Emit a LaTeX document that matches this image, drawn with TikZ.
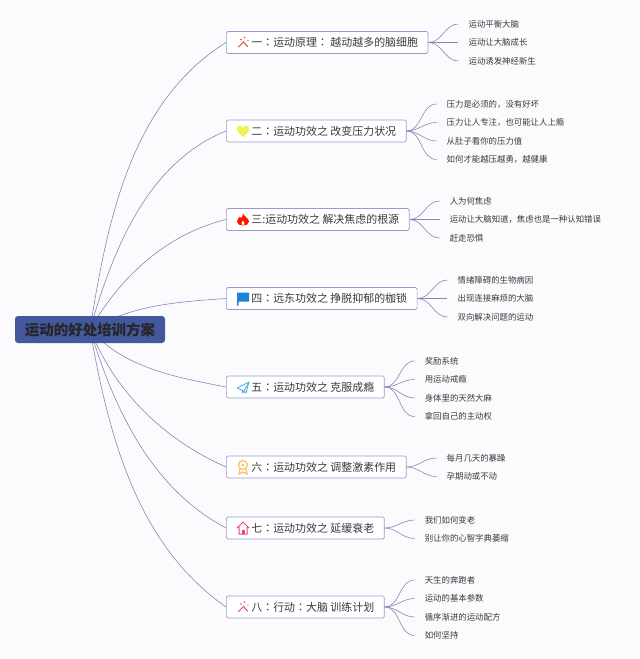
\documentclass[tikz,border=0pt]{standalone}
\usepackage{fontspec}
\setmainfont{Noto Sans CJK SC}
\newfontfamily\colonfont{Noto Sans CJK TC}
\usetikzlibrary{positioning, backgrounds}
\definecolor{pagetint}{RGB}{251,251,254}
\definecolor{rootblue}{RGB}{68,88,158}
\definecolor{linegray}{RGB}{132,136,182}
\definecolor{boxedge}{RGB}{150,155,208}
\definecolor{labelgray}{RGB}{58,58,62}
\definecolor{wandred}{RGB}{222,70,60}
\definecolor{wandpink}{RGB}{228,70,120}
\definecolor{heartyellow}{RGB}{240,240,80}
\definecolor{flagblue}{RGB}{30,130,220}
\definecolor{planeblue}{RGB}{80,170,230}
\definecolor{medalgold}{RGB}{245,195,90}
\newcommand{\cln}{{\colonfont ：}}

\begin{document}
\begin{tikzpicture}[
  x=1pt, y=-1pt,
  node distance=6.1pt,
  root/.style={rectangle, fill=rootblue, rounded corners=3pt, minimum width=150pt,
               minimum height=27pt, inner sep=0pt, font=\fontsize{14.5pt}{16pt}\selectfont\bfseries, text=black!85},
  branch/.style={rectangle, draw=boxedge, fill=white, rounded corners=1.5pt, anchor=west,
                 minimum height=22pt, inner xsep=10pt, inner ysep=0pt, line width=0.7pt,
                 font=\fontsize{10.95pt}{12pt}\selectfont, text=labelgray},
  leaf/.style={rectangle, minimum height=12pt, inner xsep=10pt, inner ysep=0pt,
               font=\fontsize{8.4pt}{10pt}\selectfont, text=labelgray},
  trunk/.style={draw=linegray, line width=0.6pt},
  twig/.style={draw=linegray, line width=0.6pt, out=0, in=180},
]
  \useasboundingbox (0,0) rectangle (640,659);

  \node[root] (main) at (90,329.5) {运动的好处培训方案};

  \node[branch] (b1) at (226,42.5) {\hspace*{15pt}一\cln 运动原理\cln\ 越动越多的脑细胞};
  \node[branch] (b2) at (226,131) {\hspace*{15pt}二\cln 运动功效之 改变压力状况};
  \node[branch] (b3) at (226,219.5) {\hspace*{15pt}三:运动功效之 解决焦虑的根源};
  \node[branch] (b4) at (226,298.5) {\hspace*{15pt}四\cln 远东功效之 挣脱抑郁的枷锁};
  \node[branch] (b5) at (226,387) {\hspace*{15pt}五\cln 运动功效之 克服成瘾};
  \node[branch] (b6) at (226,467) {\hspace*{15pt}六\cln 运动功效之 调整激素作用};
  \node[branch] (b7) at (226,528) {\hspace*{15pt}七\cln 运动功效之 延缓衰老};
  \node[branch] (b8) at (226,607) {\hspace*{15pt}八\cln 行动\cln 大脑 训练计划};

  \node[leaf, right=30pt of b1] (b1b) {运动让大脑成长};
  \node[leaf, above=of b1b.north west, anchor=south west] (b1a) {运动平衡大脑};
  \node[leaf, below=of b1b.south west, anchor=north west] (b1c) {运动诱发神经新生};

  \node[leaf, right=30pt of b2, yshift=27pt] (b2a) {压力是必须的，没有好坏};
  \node[leaf, below=of b2a.south west, anchor=north west] (b2b) {压力让人专注，也可能让人上瘾};
  \node[leaf, below=of b2b.south west, anchor=north west] (b2c) {从肚子看你的压力值};
  \node[leaf, below=of b2c.south west, anchor=north west] (b2d) {如何才能越压越勇，越健康};

  \node[leaf, right=30pt of b3] (b3b) {运动让大脑知道，焦虑也是一种认知错误};
  \node[leaf, above=of b3b.north west, anchor=south west] (b3a) {人为何焦虑};
  \node[leaf, below=of b3b.south west, anchor=north west] (b3c) {赶走恐惧};

  \node[leaf, right=30pt of b4] (b4b) {出现连接麻烦的大脑};
  \node[leaf, above=of b4b.north west, anchor=south west] (b4a) {情绪障碍的生物病因};
  \node[leaf, below=of b4b.south west, anchor=north west] (b4c) {双向解决问题的运动};

  \node[leaf, right=30pt of b5, yshift=26pt] (b5a) {奖励系统};
  \node[leaf, below=of b5a.south west, anchor=north west] (b5b) {用运动戒瘾};
  \node[leaf, below=of b5b.south west, anchor=north west] (b5c) {身体里的天然大麻};
  \node[leaf, below=of b5c.south west, anchor=north west] (b5d) {拿回自己的主动权};

  \node[leaf, right=30pt of b6, yshift=9pt] (b6a) {每月几天的暴躁};
  \node[leaf, below=of b6a.south west, anchor=north west] (b6b) {孕期动或不动};

  \node[leaf, right=30pt of b7, yshift=8pt] (b7a) {我们如何变老};
  \node[leaf, below=of b7a.south west, anchor=north west] (b7b) {别让你的心智字典萎缩};

  \node[leaf, right=30pt of b8, yshift=27pt] (b8a) {天生的奔跑者};
  \node[leaf, below=of b8a.south west, anchor=north west] (b8b) {运动的基本参数};
  \node[leaf, below=of b8b.south west, anchor=north west] (b8c) {循序渐进的运动配方};
  \node[leaf, below=of b8c.south west, anchor=north west] (b8d) {如何坚持};

  \begin{scope}[on background layer]
    \fill[pagetint] (0,0) rectangle (640,659);
    \draw[trunk] (main.center) to[out=81, in=212, looseness=0.9] (b1.west);
    \draw[trunk] (main.center) to[out=74, in=202, looseness=0.9] (b2.west);
    \draw[trunk] (main.center) to[out=60, in=194, looseness=0.9] (b3.west);
    \draw[trunk] (main.center) to[out=30, in=184, looseness=0.9] (b4.west);
    \draw[trunk] (main.center) to[out=-48, in=169, looseness=0.9] (b5.west);
    \draw[trunk] (main.center) to[out=-68, in=156, looseness=0.9] (b6.west);
    \draw[trunk] (main.center) to[out=-73, in=152, looseness=0.9] (b7.west);
    \draw[trunk] (main.center) to[out=-80, in=145, looseness=0.9] (b8.west);
  \end{scope}

  \draw[twig] (b1.east) to (b1a.west);
  \draw[twig] (b1.east) to (b1b.west);
  \draw[twig] (b1.east) to (b1c.west);
  \draw[twig] (b2.east) to (b2a.west);
  \draw[twig] (b2.east) to (b2b.west);
  \draw[twig] (b2.east) to (b2c.west);
  \draw[twig] (b2.east) to (b2d.west);
  \draw[twig] (b3.east) to (b3a.west);
  \draw[twig] (b3.east) to (b3b.west);
  \draw[twig] (b3.east) to (b3c.west);
  \draw[twig] (b4.east) to (b4a.west);
  \draw[twig] (b4.east) to (b4b.west);
  \draw[twig] (b4.east) to (b4c.west);
  \draw[twig] (b5.east) to (b5a.west);
  \draw[twig] (b5.east) to (b5b.west);
  \draw[twig] (b5.east) to (b5c.west);
  \draw[twig] (b5.east) to (b5d.west);
  \draw[twig] (b6.east) to (b6a.west);
  \draw[twig] (b6.east) to (b6b.west);
  \draw[twig] (b7.east) to (b7a.west);
  \draw[twig] (b7.east) to (b7b.west);
  \draw[twig] (b8.east) to (b8a.west);
  \draw[twig] (b8.east) to (b8b.west);
  \draw[twig] (b8.east) to (b8c.west);
  \draw[twig] (b8.east) to (b8d.west);

  % icons
  \begin{scope}[shift={(b1.west)}, wandred, line width=1pt, line cap=round]
    \draw (12.5,4.5) -- (18,-1);
    \draw (18,0) -- (21.5,4);
    \fill (15,-3) circle (0.8pt) (18.5,-5) circle (0.8pt) (22,-2) circle (0.7pt);
  \end{scope}
  \begin{scope}[shift={(b2.west)}]
    \fill[heartyellow] (17,-3) .. controls (15,-6.5) and (11,-6) .. (11,-2) .. controls (11,1) and (15,4) .. (17,6) .. controls (19,4) and (23,1) .. (23,-2) .. controls (23,-6) and (19,-6.5) .. (17,-3) -- cycle;
  \end{scope}
  \begin{scope}[shift={(b3.west)}]
    \fill[red!85!orange] (17,-6) .. controls (18,-3) and (23,-1) .. (23,2) .. controls (23,5) and (20,6) .. (17,6) .. controls (14,6) and (11,5) .. (11,2) .. controls (11,-1) and (13,-1) .. (14,-3) .. controls (15,-2) and (15,-1) .. (15,-1) .. controls (16,-2) and (17,-4) .. (17,-6) -- cycle;
    \fill[white] (17,1) .. controls (19,3) and (19,5) .. (17,6) .. controls (15,5) and (15,3) .. (17,1) -- cycle;
  \end{scope}
  \begin{scope}[shift={(b4.west)}]
    \fill[flagblue] (11,-6) -- (23,-6) -- (23,3) -- (12.5,3) -- (12.5,7) -- (11,7) -- cycle;
  \end{scope}
  \begin{scope}[shift={(b5.west)}, planeblue, line width=0.8pt, line join=round]
    \draw (11,1) -- (23,-5) -- (20,6) -- (16,3) -- cycle;
    \draw (16,3) -- (17,6) -- (23,-5);
  \end{scope}
  \begin{scope}[shift={(b6.west)}, medalgold, line width=1.2pt]
    \draw (17,-2) circle (4.5pt);
    \fill (17,-2) circle (1.5pt);
    \draw (14,2) -- (13,7) -- (17,5) -- (21,7) -- (20,2);
  \end{scope}
  \begin{scope}[shift={(b7.west)}, wandpink, line width=1pt, line join=round]
    \draw (11,0) -- (17,-6) -- (23,0) (13,-1) -- (13,6) -- (21,6) -- (21,-1);
    \fill (15.5,6) rectangle (18.5,2);
  \end{scope}
  \begin{scope}[shift={(b8.west)}, wandpink, line width=1pt, line cap=round]
    \draw (12.5,4.5) -- (18,-1);
    \draw (18,0) -- (21.5,4);
    \fill (15,-3) circle (0.8pt) (18.5,-5) circle (0.8pt) (22,-2) circle (0.7pt);
  \end{scope}
\end{tikzpicture}
\end{document}
